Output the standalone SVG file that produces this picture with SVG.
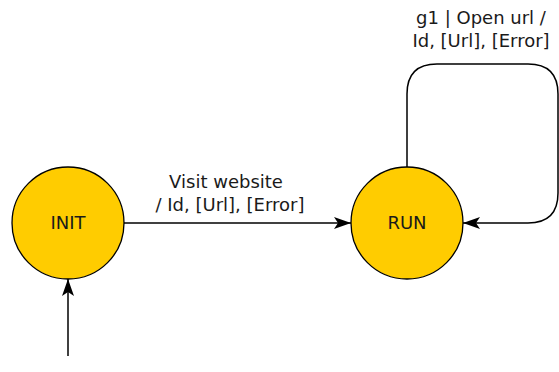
<svg xmlns="http://www.w3.org/2000/svg" width="559" height="372" viewBox="0 0 559 372">
  <style>
    .state { fill: #ffcc00; stroke: #000; stroke-width: 1.3; }
    .name { font-family: "DejaVu Sans", sans-serif; font-size: 18px; fill: #1a1a1a; text-anchor: middle; }
    .label { font-family: "DejaVu Sans", sans-serif; font-size: 18px; fill: #1a1a1a; text-anchor: middle; }
    .edge { fill: none; stroke: #000; stroke-width: 1.5; marker-end: url(#arrow); }
  </style>
  <defs>
    <marker id="arrow" markerWidth="18" markerHeight="12" refX="17" refY="6" orient="auto" markerUnits="userSpaceOnUse">
      <path d="M0,0 L17,6 L0,12 L4,6 Z" fill="#000"/>
    </marker>
  </defs>
  <rect width="559" height="372" fill="#fff"/>

  <g id="connectors">
    <path id="e-start" class="edge" d="M68,356 L68,279"/>
    <path id="e-visit" class="edge" d="M124,223 L351,223"/>
    <path id="e-loop" class="edge" d="M407,167 L407,94 Q407,64 437,64 L528,64 Q558,64 558,94 L558,193 Q558,223 528,223 L463,223"/>
  </g>

  <g id="init">
    <circle class="state" cx="68" cy="223" r="56"/>
    <text class="name" x="68" y="229">INIT</text>
  </g>

  <g id="run">
    <circle class="state" cx="407" cy="223" r="56"/>
    <text class="name" x="407" y="229">RUN</text>
  </g>

  <g id="labels">
    <text class="label" x="226" y="188">Visit website</text>
    <text class="label" x="230" y="211">/ Id, [Url], [Error]</text>
    <text class="label" x="481" y="24">g1 | Open url /</text>
    <text class="label" x="481" y="47">Id, [Url], [Error]</text>
  </g>
</svg>
